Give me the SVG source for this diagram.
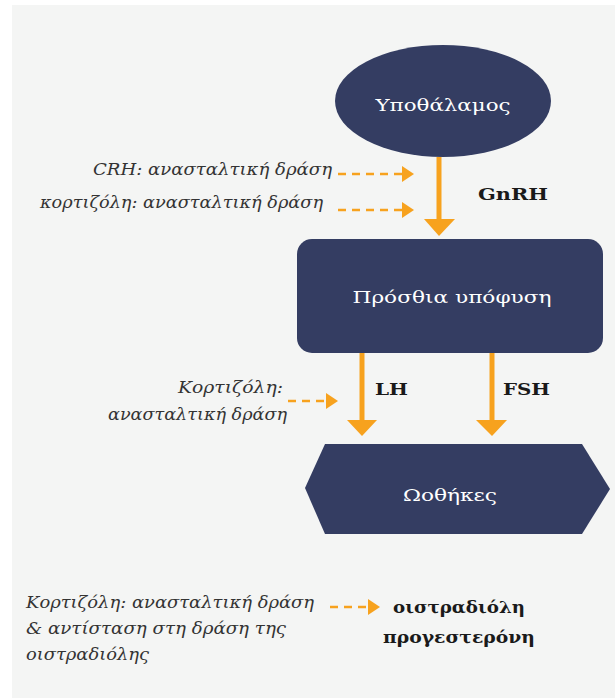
<svg xmlns="http://www.w3.org/2000/svg" width="615" height="698" viewBox="0 0 615 698">
<defs>
<style>
.node{fill:#343d62}
.ntext{font-family:"DejaVu Serif","Noto Serif",serif;font-size:17px;fill:#ffffff;text-anchor:middle}
.lbl{font-family:"DejaVu Serif","Noto Serif",serif;font-style:italic;font-size:17px;fill:#333333}
.bold{font-family:"DejaVu Serif","Noto Serif",serif;font-weight:bold;font-size:17px;fill:#1a1a1a}
.solid{stroke:#f7a21e;stroke-width:5;fill:none}
.dash{stroke:#f7a21e;stroke-width:2.5;stroke-dasharray:8 6;fill:none}
.head{fill:#f7a21e}
</style>
</defs>
<rect x="12" y="5" width="603" height="693" fill="#f4f5f4"/>
<g id="hypothalamus">
<ellipse class="node" cx="443" cy="101" rx="108" ry="56"/>
<text class="ntext" x="443" y="111" textLength="135" lengthAdjust="spacingAndGlyphs">Υποθάλαμος</text>
</g>
<g id="pituitary">
<rect class="node" x="297" y="239" width="306" height="114" rx="15"/>
<text class="ntext" x="452" y="303" textLength="199" lengthAdjust="spacingAndGlyphs">Πρόσθια υπόφυση</text>
</g>
<g id="ovaries">
<polygon class="node" points="305,488 325,444 582,444 610,489 582,534 325,534"/>
<text class="ntext" x="450" y="501" textLength="94" lengthAdjust="spacingAndGlyphs">Ωοθήκες</text>
</g>
<g id="labels">
<text class="lbl" x="93" y="175" textLength="239" lengthAdjust="spacingAndGlyphs">CRH: ανασταλτική δράση</text>
<text class="lbl" x="40" y="208" textLength="283" lengthAdjust="spacingAndGlyphs">κορτιζόλη: ανασταλτική δράση</text>
<text class="bold" x="478" y="200" textLength="70" lengthAdjust="spacingAndGlyphs">GnRH</text>
<text class="bold" x="375" y="395" textLength="33" lengthAdjust="spacingAndGlyphs">LH</text>
<text class="bold" x="503" y="395" textLength="47" lengthAdjust="spacingAndGlyphs">FSH</text>
<text class="lbl" x="178" y="393" textLength="105" lengthAdjust="spacingAndGlyphs">Κορτιζόλη:</text>
<text class="lbl" x="108" y="420" textLength="179" lengthAdjust="spacingAndGlyphs">ανασταλτική δράση</text>
<text class="lbl" x="26" y="608" textLength="288" lengthAdjust="spacingAndGlyphs">Κορτιζόλη: ανασταλτική δράση</text>
<text class="lbl" x="26" y="634" textLength="260" lengthAdjust="spacingAndGlyphs">&amp; αντίσταση στη δράση της</text>
<text class="lbl" x="26" y="660" textLength="123" lengthAdjust="spacingAndGlyphs">οιστραδιόλης</text>
<text class="bold" x="393" y="613" textLength="132" lengthAdjust="spacingAndGlyphs">οιστραδιόλη</text>
<text class="bold" x="383" y="643" textLength="152" lengthAdjust="spacingAndGlyphs">προγεστερόνη</text>
</g>
<g id="connectors">
<line class="solid" x1="439" y1="157" x2="439" y2="221"/>
<polygon class="head" points="424,219 455,219 439,236"/>
<line class="solid" x1="362" y1="353" x2="362" y2="422"/>
<polygon class="head" points="347,420 377,420 362,436"/>
<line class="solid" x1="492" y1="353" x2="492" y2="422"/>
<polygon class="head" points="476,420 507,420 492,436"/>
<line class="dash" x1="338" y1="174" x2="404" y2="174"/>
<polygon class="head" points="402,166 414,174 402,182"/>
<line class="dash" x1="338" y1="210" x2="404" y2="210"/>
<polygon class="head" points="402,202 414,210 402,218"/>
<line class="dash" x1="288" y1="401" x2="328" y2="401"/>
<polygon class="head" points="326,393 338,401 326,409"/>
<line class="dash" x1="330" y1="607" x2="370" y2="607"/>
<polygon class="head" points="368,599 380,607 368,615"/>
</g>
</svg>
